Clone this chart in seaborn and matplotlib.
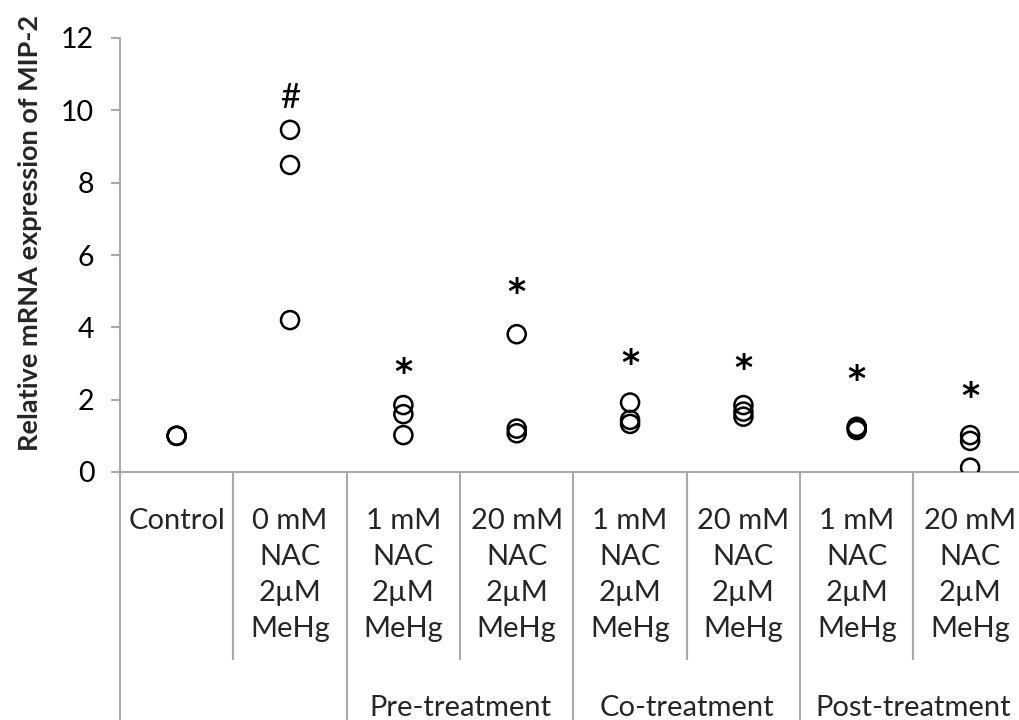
import numpy as np
import pandas as pd
import matplotlib
matplotlib.use("Agg")
import matplotlib.pyplot as plt
import matplotlib.transforms as mtransforms
import seaborn as sns

# ---------------- data ----------------
categories = ["Control", "0 mM NAC", "Pre 1 mM", "Pre 20 mM",
              "Co 1 mM", "Co 20 mM", "Post 1 mM", "Post 20 mM"]
tick_labels = ["Control",
               "0 mM\nNAC\n2µM\nMeHg",
               "1 mM\nNAC\n2µM\nMeHg",
               "20 mM\nNAC\n2µM\nMeHg",
               "1 mM\nNAC\n2µM\nMeHg",
               "20 mM\nNAC\n2µM\nMeHg",
               "1 mM\nNAC\n2µM\nMeHg",
               "20 mM\nNAC\n2µM\nMeHg"]
group_labels = ["Pre-treatment", "Co-treatment", "Post-treatment"]
group_members = [(2, 3), (4, 5), (6, 7)]

control = [1.00, 1.00, 1.00]
nac0 = [9.46, 8.49, 4.20]
pre1 = [1.85, 1.60, 1.02]
pre20 = [3.81, 1.20, 1.07]
co1 = [1.92, 1.44, 1.33]
co20 = [1.85, 1.67, 1.53]
post1 = [1.25, 1.21, 1.16]
post20 = [1.02, 0.86, 0.12]
values = [control, nac0, pre1, pre20, co1, co20, post1, post20]

marks = ["", "#", "*", "*", "*", "*", "*", "*"]
mark_y = [np.nan, 10.35, 2.94, 5.15, 3.17, 3.05, 2.73, 2.27]

y_ticks = [0, 2, 4, 6, 8, 10, 12]
y_label = "Relative mRNA expression of MIP-2"

# ---------------- style ----------------
sns.set_style("white")
plt.rcParams["font.family"] = ["Lato", "DejaVu Sans"]
GRAY = "#a9a9a9"

FIG_W, FIG_H = 1020, 720
AX_L, AX_B, AX_T = 120, 472, 38
COL_W = 113.35

fig = plt.figure(figsize=(FIG_W / 100, FIG_H / 100), dpi=100)
ax = fig.add_axes([AX_L / FIG_W, (FIG_H - AX_B) / FIG_H,
                   8 * COL_W / FIG_W, (AX_B - AX_T) / FIG_H])


def y_ax(px):
    return (AX_B - px) / (AX_B - AX_T)


df = pd.DataFrame({
    "group": np.repeat(categories, [len(v) for v in values]),
    "value": np.concatenate(values),
})

sns.stripplot(data=df, x="group", y="value", order=categories, jitter=False,
              size=13, marker="o", color="black", ax=ax)
for c in ax.collections:
    c.set_facecolor("none")
    c.set_edgecolor("black")
    c.set_linewidth(1.8)

ax.set_xlim(-0.5, 7.5)
ax.set_ylim(0, 12)
ax.set_yticks(y_ticks)
ax.set_yticklabels([str(t) for t in y_ticks])
ax.set_xlabel("")
ax.set_ylabel("")

for s in ["top", "right"]:
    ax.spines[s].set_visible(False)
for s in ["left", "bottom"]:
    ax.spines[s].set_color(GRAY)
    ax.spines[s].set_linewidth(1.5)

ax.tick_params(axis="y", direction="out", length=6.5, width=1.5, color=GRAY,
               labelsize=20.5, pad=12, labelcolor="black", left=True)
ax.tick_params(axis="x", length=0, labelbottom=False)

# category labels
tr = ax.get_xaxis_transform()
for i, lbl in enumerate(tick_labels):
    ax.text(i, y_ax(508), lbl, transform=tr, ha="center", va="top",
            fontsize=21, linespacing=1.48, multialignment="center",
            clip_on=False)

for lbl, (a, b) in zip(group_labels, group_members):
    ax.text((a + b) / 2, y_ax(716), lbl, transform=tr, ha="center",
            va="baseline", fontsize=21, clip_on=False)

# separators below axis
long_sep = [-0.5, 1.5, 3.5, 5.5, 7.5]
short_sep = [0.5, 2.5, 4.5, 6.5]
for x in long_sep:
    ax.plot([x, x], [0, y_ax(725)], transform=tr, color=GRAY, lw=1.5,
            clip_on=False, solid_capstyle="butt")
for x in short_sep:
    ax.plot([x, x], [0, y_ax(660)], transform=tr, color=GRAY, lw=1.5,
            clip_on=False, solid_capstyle="butt")

# significance marks
star_tr = mtransforms.offset_copy(ax.transData, fig=fig, x=0, y=-5,
                                  units="points")
for i, (m, yv) in enumerate(zip(marks, mark_y)):
    if m == "*":
        ax.text(i, yv, m, transform=star_tr, ha="center", va="center",
                fontsize=25, fontweight="bold", family="DejaVu Sans",
                color="black")
    elif m:
        ax.text(i, yv, m, ha="center", va="center", fontsize=25,
                color="black")

fig.text(30 / FIG_W, 1 - 233 / FIG_H, y_label, rotation=90, ha="center",
         va="center", fontsize=19.5, fontweight="bold")

fig.savefig("out.png", dpi=100)
